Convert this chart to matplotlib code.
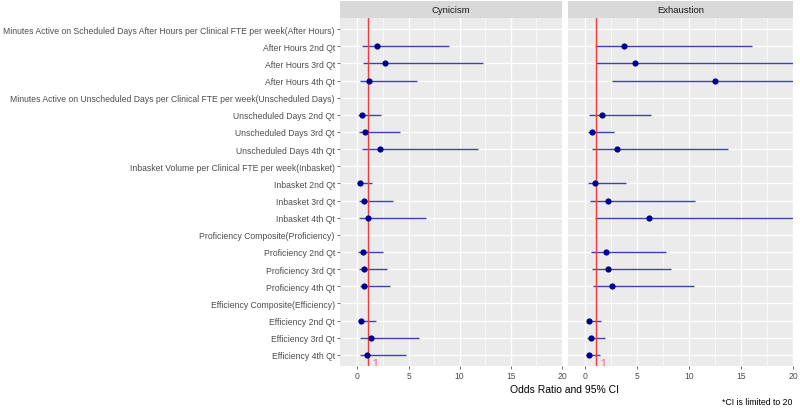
import numpy as np
import matplotlib
matplotlib.use("Agg")
import matplotlib.pyplot as plt

plt.rcParams['font.family'] = ['Liberation Sans', 'DejaVu Sans']

rows = [
    "Minutes Active on Scheduled Days After Hours per Clinical FTE per week(After Hours)",
    "After Hours 2nd Qt",
    "After Hours 3rd Qt",
    "After Hours 4th Qt",
    "Minutes Active on Unscheduled Days per Clinical FTE per week(Unscheduled Days)",
    "Unscheduled Days 2nd Qt",
    "Unscheduled Days 3rd Qt",
    "Unscheduled Days 4th Qt",
    "Inbasket Volume per Clinical FTE per week(Inbasket)",
    "Inbasket 2nd Qt",
    "Inbasket 3rd Qt",
    "Inbasket 4th Qt",
    "Proficiency Composite(Proficiency)",
    "Proficiency 2nd Qt",
    "Proficiency 3rd Qt",
    "Proficiency 4th Qt",
    "Efficiency Composite(Efficiency)",
    "Efficiency 2nd Qt",
    "Efficiency 3rd Qt",
    "Efficiency 4th Qt",
]
nan = np.nan
facets = ["Cynicism", "Exhaustion"]

cyn_or = [nan, 1.90, 2.71, 1.11, nan, 0.49, 0.75, 2.22, nan, 0.26, 0.65, 1.05, nan, 0.52, 0.65, 0.65, nan, 0.33, 1.31, 0.98]
cyn_lo = [nan, 0.43, 0.56, 0.23, nan, 0.04, 0.17, 0.43, nan, 0.00, 0.17, 0.17, nan, 0.08, 0.17, 0.23, nan, 0.08, 0.30, 0.23]
cyn_hi = [nan, 8.94, 12.27, 5.87, nan, 2.29, 4.18, 11.78, nan, 1.41, 3.52, 6.69, nan, 2.51, 2.94, 3.17, nan, 1.80, 6.07, 4.76]

exh_or = [nan, 3.70, 4.73, 12.51, nan, 1.62, 0.64, 3.01, nan, 0.93, 2.20, 6.13, nan, 1.94, 2.20, 2.59, nan, 0.39, 0.52, 0.32]
exh_lo = [nan, 0.88, 1.07, 2.56, nan, 0.39, 0.25, 0.64, nan, 0.25, 0.45, 0.93, nan, 0.55, 0.64, 0.70, nan, 0.16, 0.16, 0.06]
exh_hi = [nan, 15.98, 20.0, 20.0, nan, 6.28, 2.72, 13.71, nan, 3.89, 10.50, 20.0, nan, 7.78, 8.27, 10.41, nan, 1.46, 1.88, 1.43]

x_ticks = [0, 5, 10, 15, 20]

W, H = 800, 410
fig = plt.figure(figsize=(W / 100, H / 100), dpi=100)

def fx(px):
    return px / W

def fy(py):
    return 1 - py / H

panel_top, panel_bot = 19, 367
panels = [(340, 562), (567.7, 793.3)]
data = [(cyn_or, cyn_lo, cyn_hi), (exh_or, exh_lo, exh_hi)]

y = np.arange(1, len(rows) + 1)
tick_col = '#4D4D4D'

for i, ((x0, x1), (orv, lo, hi)) in enumerate(zip(panels, data)):
    ax = fig.add_axes([fx(x0), fy(panel_bot), fx(x1 - x0), (panel_bot - panel_top) / H])
    ax.set_facecolor('#EBEBEB')
    ax.set_xlim(-1.7, 20)
    ax.set_ylim(20.65, 0.35)
    for s in ax.spines.values():
        s.set_visible(False)
    # grid
    for m in [2.5, 7.5, 12.5, 17.5]:
        ax.axvline(m, color='white', lw=0.5, zorder=0)
    for t in x_ticks:
        ax.axvline(t, color='white', lw=1.0, zorder=0)
    for yy in y:
        ax.axhline(yy, color='white', lw=1.0, zorder=0)
    ax.set_xticks(x_ticks)
    ax.set_xticklabels([str(t) for t in x_ticks])
    ax.set_yticks(y)
    ax.tick_params(axis='both', labelsize=6.2, labelcolor=tick_col, color='#333333',
                   length=2.2, width=0.5, pad=1.5)
    if i == 0:
        ax.set_yticklabels(rows)
    else:
        ax.set_yticklabels([])
        ax.tick_params(axis='y', length=0)
    orv = np.array(orv); lo = np.array(lo); hi = np.array(hi)
    ok = ~np.isnan(orv)
    ax.hlines(y[ok], lo[ok], hi[ok], color='#4040B0', lw=1.0, zorder=2)
    ax.axvline(1, color='#F03C3C', lw=1.0, zorder=3)
    ax.scatter(orv[ok], y[ok], s=20, color='#00008B', zorder=4, linewidths=0)
    ax.text(1.7, 20.5, "1", color='#F58AA6', fontsize=7.5, ha='center', va='center',
            fontweight='bold', zorder=5, clip_on=True)
    # strip
    sax = fig.add_axes([fx(x0), fy(panel_top), fx(x1 - x0), 17 / H])
    sax.set_facecolor('#D9D9D9')
    sax.set_xticks([]); sax.set_yticks([])
    for s in sax.spines.values():
        s.set_visible(False)
    sax.text(0.5, 0.5, facets[i], ha='center', va='center', fontsize=6.8,
             color='#1A1A1A', transform=sax.transAxes)

fig.text(fx(565), fy(390), "Odds Ratio and 95% CI", ha='center', va='center',
         fontsize=7.5, color='black')
fig.text(fx(792), fy(403), "*CI is limited to 20", ha='right', va='center',
         fontsize=6.3, color='black')

fig.savefig("out.png", dpi=100, facecolor='white')
